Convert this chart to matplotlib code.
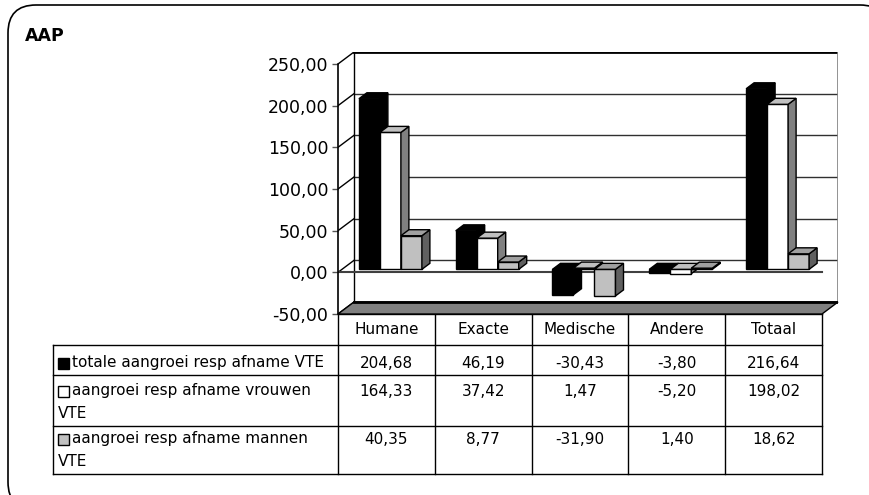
import numpy as np
import matplotlib
matplotlib.use("Agg")
import matplotlib.pyplot as plt
from matplotlib.patches import Polygon, Rectangle, FancyBboxPatch

plt.rcParams['font.family'] = ['DejaVu Sans']

categories = ['Humane', 'Exacte', 'Medische', 'Andere', 'Totaal']
totaal = [204.68, 46.19, -30.43, -3.80, 216.64]
vrouwen = [164.33, 37.42, 1.47, -5.20, 198.02]
mannen = [40.35, 8.77, -31.90, 1.40, 18.62]
series_names = ['totale aangroei resp afname VTE',
                'aangroei resp afname vrouwen\nVTE',
                'aangroei resp afname mannen\nVTE']
yticks = [-50, 0, 50, 100, 150, 200, 250]

series = [totaal, vrouwen, mannen]
# front, top, side colours per series
face_cols = [('black', 'black', 'black'),
             ('white', '#c0c0c0', '#808080'),
             ('#c0c0c0', '#a0a0a0', '#606060')]

W, H = 870, 495
fig = plt.figure(figsize=(W / 100, H / 100), dpi=100)
fig.patch.set_facecolor('white')

# pixel overlay for frame, title and data table
tb = fig.add_axes([0, 0, 1, 1])
tb.set_xlim(0, W)
tb.set_ylim(H, 0)
tb.axis('off')

tb.add_patch(FancyBboxPatch((8, 5), 880, 505,
                            boxstyle='round,pad=0,rounding_size=28',
                            fc='white', ec='black', lw=1.2, clip_on=False))
tb.text(25, 36, 'AAP', fontsize=12.5, fontweight='bold', va='center', ha='left')

# chart axes: front plane x 0..5 -> 338..822 px, y -50..250 -> 314..64 px
x_l, x_r, y_t, y_b = 338, 822, 64, 314
depth_px = (16, 12)
px_x = (x_r - x_l) / len(categories)
px_y = (y_b - y_t) / 300.0
dx = depth_px[0] / px_x
dy = depth_px[1] / px_y

ax = fig.add_axes([x_l / W, 1 - y_b / H,
                   (x_r + depth_px[0] - x_l) / W,
                   (y_b - y_t + depth_px[1]) / H])
ax.set_xlim(0, len(categories) + dx)
ax.set_ylim(-50, 250 + dy)
ax.patch.set_visible(False)
for s in ['top', 'right', 'bottom']:
    ax.spines[s].set_visible(False)
ax.spines['left'].set_bounds(-50, 250)
ax.spines['left'].set_linewidth(1.2)
ax.set_xticks([])
ax.set_yticks(yticks)
ax.set_yticklabels([f"{v:.2f}".replace('.', ',') for v in yticks], fontsize=12.5)
ax.tick_params(axis='y', length=4, width=1, color='#555555', pad=3)

n = len(categories)
ymin, ymax = -50, 250
# back wall, floor and left wall
ax.add_patch(Rectangle((dx, ymin + dy), n, ymax - ymin, fc='white',
                       ec='none', zorder=0))
for v in yticks[1:-1]:
    ax.plot([dx, n + dx], [v + dy, v + dy], color='#303030', lw=1, zorder=1)
for v in yticks:
    ax.plot([0, dx], [v, v + dy], color='black', lw=1, zorder=1)
ax.plot([dx, n + dx], [ymax + dy, ymax + dy], color='black', lw=2, zorder=1)
ax.plot([dx, dx], [ymin + dy, ymax + dy], color='black', lw=1, zorder=1)
ax.plot([n + dx, n + dx], [ymin + dy, ymax + dy], color='#808080', lw=1.2, zorder=1)
ax.add_patch(Polygon([(0, ymin), (n, ymin), (n + dx, ymin + dy), (dx, ymin + dy)],
                     closed=True, fc='#808080', ec='black', lw=1, zorder=2,
                     clip_on=False))
ax.plot([dx, n + dx], [ymin + dy, ymin + dy], color='black', lw=2, zorder=2)
ax.plot([0, n], [0, 0], color='#404040', lw=1.5, zorder=2)

# bars, with a quarter depth offset for the front face
bw = 21 / px_x
z = 3
for i in range(n):
    for k, vals in enumerate(series):
        v = vals[i]
        front, top, side = face_cols[k]
        x0 = i + 0.5 + (k - 1.5) * bw + dx / 4
        x1 = x0 + bw
        base = dy / 4
        ax.bar(x0, v, width=bw, bottom=base, align='edge', color=front,
               edgecolor='black', lw=1, zorder=z)
        yt = max(v, 0) + base
        yb = min(v, 0) + base
        ax.add_patch(Polygon([(x1, yb), (x1, yt), (x1 + dx / 2, yt + dy / 2),
                              (x1 + dx / 2, yb + dy / 2)], closed=True,
                             fc=side, ec='black', lw=1, zorder=z))
        ax.add_patch(Polygon([(x0, yt), (x1, yt), (x1 + dx / 2, yt + dy / 2),
                              (x0 + dx / 2, yt + dy / 2)], closed=True,
                             fc=top, ec='black', lw=1, zorder=z))
        z += 1

# data table under the chart
col_x = [x_l + j * px_x for j in range(n + 1)]
row_y = [314, 345, 375, 426, 474]
tleft = 53
lc = 'black'
for j, cx in enumerate(col_x):
    tb.plot([cx, cx], [row_y[0], row_y[-1]], color=lc, lw=1)
tb.plot([tleft, tleft], [row_y[1], row_y[-1]], color=lc, lw=1)
tb.plot([col_x[0], col_x[-1]], [row_y[0], row_y[0]], color=lc, lw=1)
for ry in row_y[1:]:
    tb.plot([tleft, col_x[-1]], [ry, ry], color=lc, lw=1)

for j, c in enumerate(categories):
    tb.text((col_x[j] + col_x[j + 1]) / 2, 330, c, fontsize=11,
            ha='center', va='center')

line_y = [363, 391, 439]
for k, vals in enumerate(series):
    yy = line_y[k]
    tb.add_patch(Rectangle((58, yy - 5.5), 11, 11, fc=face_cols[k][0],
                           ec='black', lw=1))
    lines = series_names[k].split('\n')
    tb.text(72, yy, lines[0], fontsize=11, ha='left', va='center')
    for m, ln in enumerate(lines[1:]):
        tb.text(58, yy + 23 * (m + 1), ln, fontsize=11, ha='left', va='center')
    for j, v in enumerate(vals):
        tb.text((col_x[j] + col_x[j + 1]) / 2, yy,
                f"{v:.2f}".replace('.', ','), fontsize=11,
                ha='center', va='center')

fig.savefig('out.png', dpi=100, facecolor='white')
